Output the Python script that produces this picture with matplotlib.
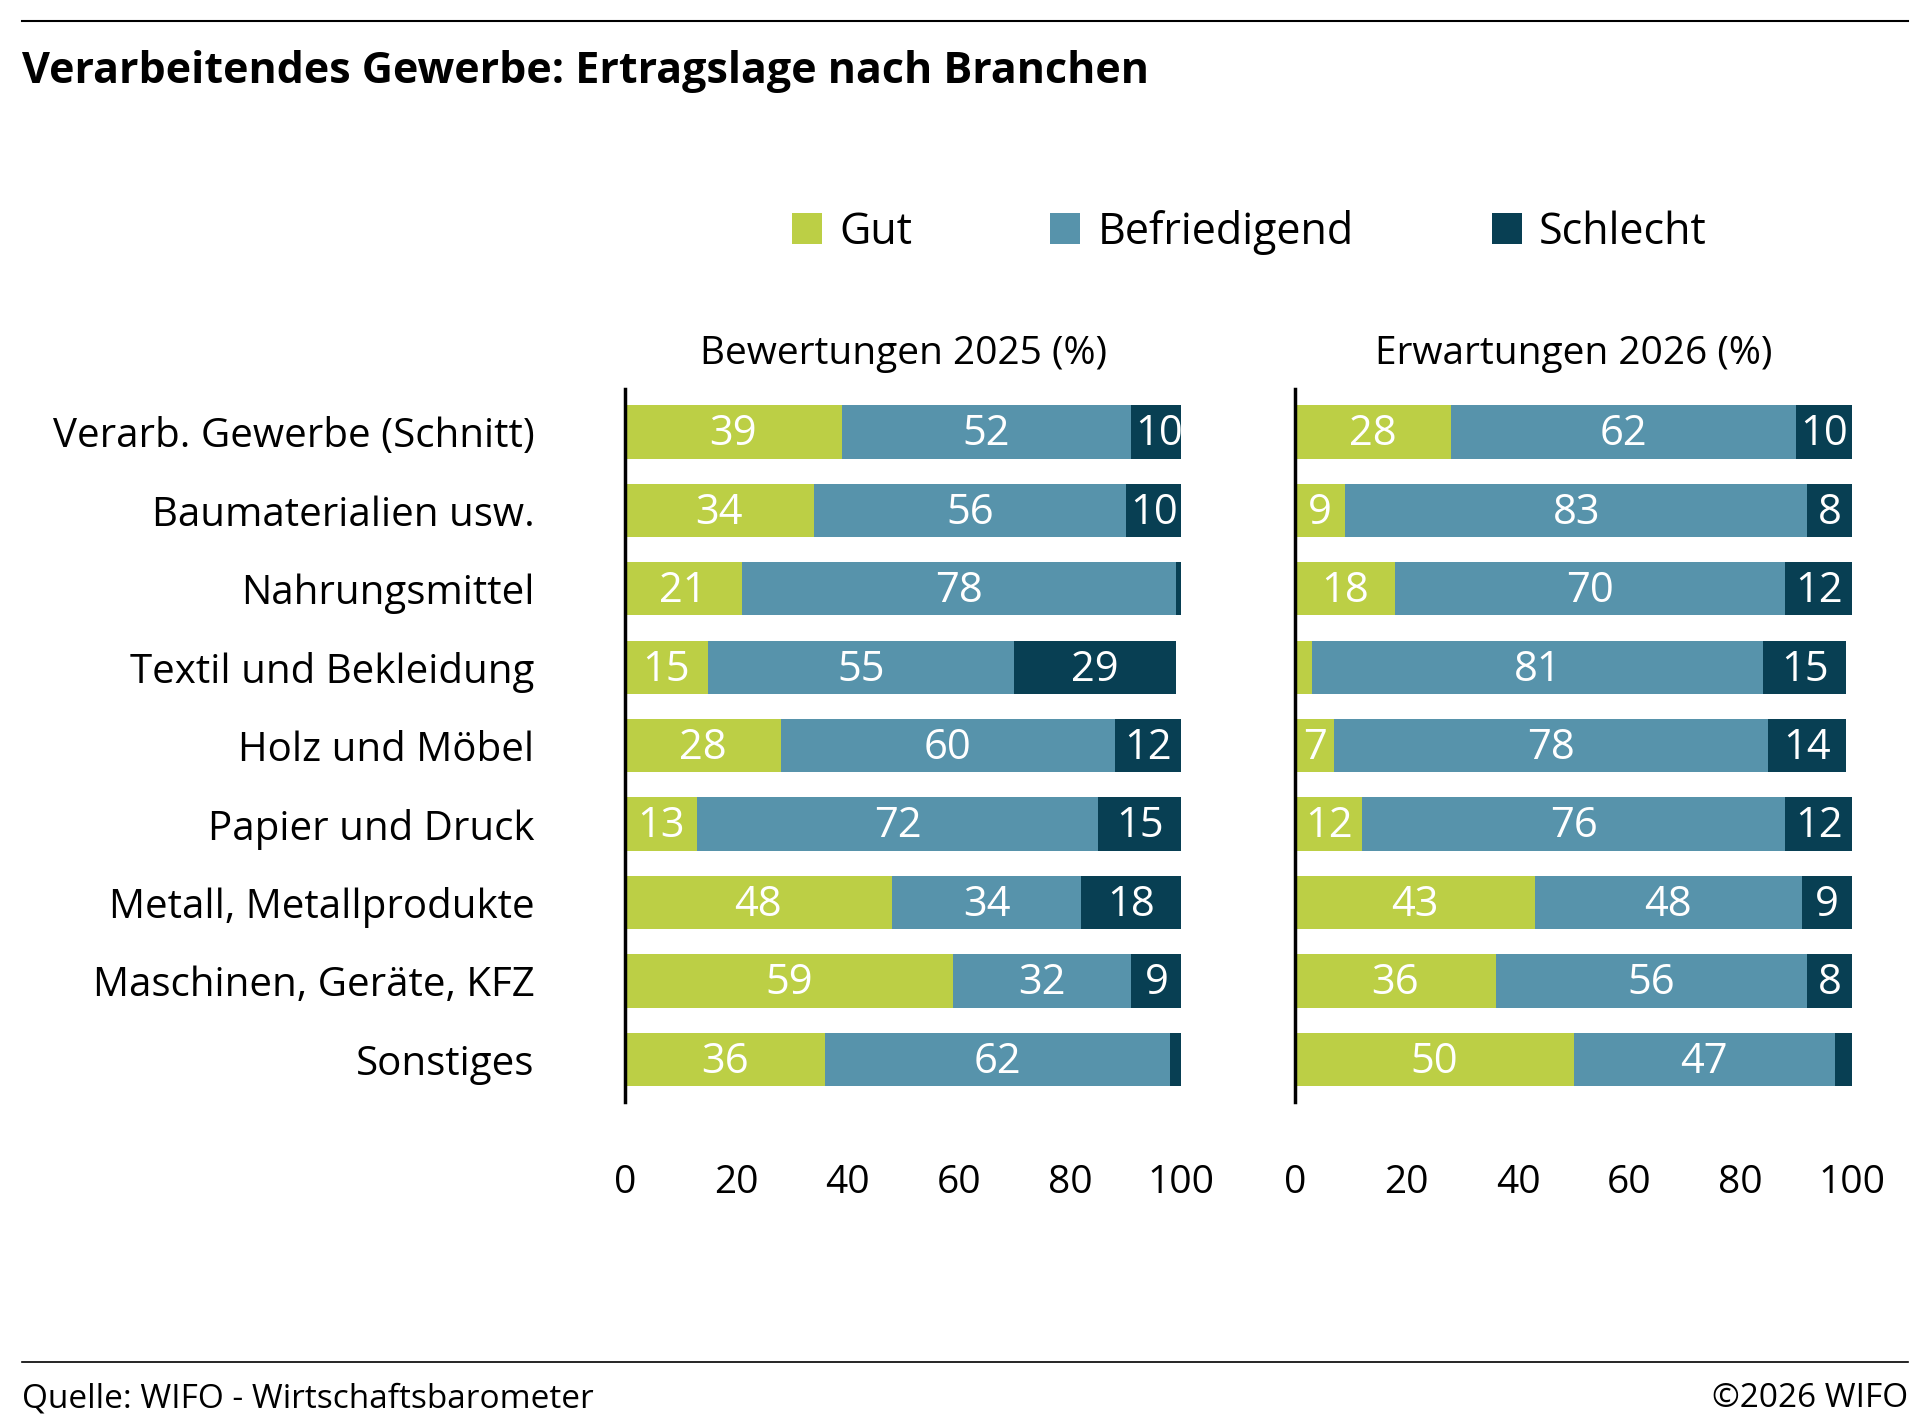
import matplotlib.pyplot as plt
import numpy as np

plt.rcParams['font.family'] = ['Open Sans', 'DejaVu Sans']

branchen = ['Verarb. Gewerbe (Schnitt)', 'Baumaterialien usw.', 'Nahrungsmittel',
            'Textil und Bekleidung', 'Holz und Möbel', 'Papier und Druck',
            'Metall, Metallprodukte', 'Maschinen, Geräte, KFZ', 'Sonstiges']
gut_2025 = [39, 34, 21, 15, 28, 13, 48, 59, 36]
bef_2025 = [52, 56, 78, 55, 60, 72, 34, 32, 62]
sch_2025 = [10, 10, 1, 29, 12, 15, 18, 9, 2]
gut_2026 = [28, 9, 18, 3, 7, 12, 43, 36, 50]
bef_2026 = [62, 83, 70, 81, 78, 76, 48, 56, 47]
sch_2026 = [10, 8, 12, 15, 14, 12, 9, 8, 3]

farben = ['#bccf45', '#5793ab', '#083f53']
namen = ['Gut', 'Befriedigend', 'Schlecht']

fig = plt.figure(figsize=(19.2, 14.16), dpi=100)
W, H = 1552, 1147
ax1 = fig.add_axes([505/W, 1-893/H, 450/W, 578/H])
ax2 = fig.add_axes([1047/W, 1-893/H, 450/W, 578/H])

y = np.arange(len(branchen))
for ax, serien, titel in [(ax1, [gut_2025, bef_2025, sch_2025], 'Bewertungen 2025 (%)'),
                          (ax2, [gut_2026, bef_2026, sch_2026], 'Erwartungen 2026 (%)')]:
    links = np.zeros(len(branchen))
    for werte, farbe, name in zip(serien, farben, namen):
        werte = np.array(werte, dtype=float)
        ax.barh(y, werte, left=links, height=0.68, color=farbe, label=name)
        for yi, l, w in zip(y, links, werte):
            if w >= 5:
                ax.text(l + w / 2, yi + 0.03, f'{int(w)}', ha='center', va='center',
                        color='white', fontsize=30)
        links += werte
    ax.set_xlim(0, 100)
    ax.set_ylim(8.55, -0.55)
    ax.set_xticks([0, 20, 40, 60, 80, 100])
    ax.tick_params(axis='x', length=0, labelsize=28, pad=44)
    ax.tick_params(axis='y', length=0)
    for s in ['top', 'right', 'bottom']:
        ax.spines[s].set_visible(False)
    ax.spines['left'].set_linewidth(2.5)
    ax.set_title(titel, fontsize=28, pad=18)

ax1.set_yticks(y)
ax1.set_yticklabels(branchen, fontsize=29)
ax1.tick_params(axis='y', pad=65)
ax2.set_yticks([])

h, l = ax1.get_legend_handles_labels()
fig.legend(h, l, loc='center', bbox_to_anchor=(1010/W, 1-188/H), ncol=3,
           frameon=False, fontsize=31, handlelength=0.7, handleheight=0.7,
           columnspacing=3.2, handletextpad=0.4)

fig.text(18/W, 1-58/H, 'Verarbeitendes Gewerbe: Ertragslage nach Branchen',
         fontsize=31, fontweight='bold', va='center')
fig.add_artist(plt.Line2D([18/W, 1542/W], [1-17/H, 1-17/H], color='black', lw=1.5))
fig.add_artist(plt.Line2D([18/W, 1542/W], [1-1103/H, 1-1103/H], color='black', lw=1.2))
fig.text(18/W, 1-1133/H, 'Quelle: WIFO - Wirtschaftsbarometer', fontsize=24, va='center')
fig.text(1542/W, 1-1133/H, '©2026 WIFO', fontsize=24, va='center', ha='right')

fig.savefig('out.png', dpi=100)
